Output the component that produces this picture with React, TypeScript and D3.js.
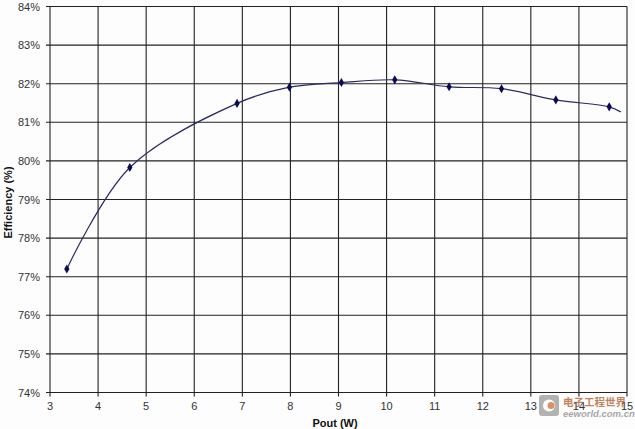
import React from "react";
import * as d3 from "d3";

const poutW = [3.35, 4.66, 6.89, 7.98, 9.06, 10.17, 11.3, 12.39, 13.52, 14.63];
const efficiencyPct = [77.2, 79.83, 81.49, 81.91, 82.03, 82.1, 81.92, 81.87, 81.58, 81.4];
const tailX = [14.87];
const tailY = [81.27];
const xTicks = [3, 4, 5, 6, 7, 8, 9, 10, 11, 12, 13, 14, 15];
const yTicks = [74, 75, 76, 77, 78, 79, 80, 81, 82, 83, 84];

const W = 635;
const H = 429;
const left = 50;
const right = 627;
const top = 6.5;
const bottom = 392.5;

export default function App() {
  const x = d3.scaleLinear().domain([3, 15]).range([left, right]);
  const y = d3.scaleLinear().domain([74, 84]).range([bottom, top]);
  const pts: [number, number][] = poutW.map((v, i) => [v, efficiencyPct[i]]);
  const linePts = pts.concat(tailX.map((v, i) => [v, tailY[i]] as [number, number]));
  const line = d3
    .line<[number, number]>()
    .x((d) => x(d[0]))
    .y((d) => y(d[1]))
    .curve(d3.curveCatmullRom.alpha(0.5));
  const font = "'Liberation Sans', Arial, sans-serif";
  return (
    <svg width={W} height={H} style={{ position: "absolute", left: 0, top: 0, background: "#fff" }} fontFamily={font}>
      <rect x={0} y={0} width={W} height={H} fill="#fdfdfd" />
      {xTicks.map((t) => (
        <g key={"x" + t}>
          <line x1={x(t)} x2={x(t)} y1={top} y2={bottom + 4} stroke="#222" strokeWidth={1.1} />
          <text x={x(t)} y={410} textAnchor="middle" fontSize={11} fill="#333">
            {t}
          </text>
        </g>
      ))}
      {yTicks.map((t) => (
        <g key={"y" + t}>
          <line x1={left - 4} x2={right} y1={y(t)} y2={y(t)} stroke="#222" strokeWidth={1.1} />
          <text x={40} y={y(t) + 4} textAnchor="end" fontSize={11} fill="#333">
            {t}%
          </text>
        </g>
      ))}
      <path d={line(linePts) || ""} fill="none" stroke="#2a2a66" strokeWidth={1.2} />
      {pts.map((d, i) => (
        <path
          key={"m" + i}
          d={d3.symbol(d3.symbolDiamond, 24)() || ""}
          transform={`translate(${x(d[0])},${y(d[1])})`}
          fill="#0a0a55"
        />
      ))}
      <text x={335} y={427} textAnchor="middle" fontSize={11} fontWeight="bold" fill="#111">
        Pout (W)
      </text>
      <text
        transform={`translate(12,${(top + bottom) / 2 + 3}) rotate(-90)`}
        textAnchor="middle"
        fontSize={11}
        fontWeight="bold"
        fill="#111"
      >
        Efficiency (%)
      </text>
      <g opacity={0.75}>
        <rect x={539} y={395} width={20} height={21} rx={3} fill="#9a9a9a" />
        <circle cx={549} cy={405.5} r={6} fill="#fff" />
        <circle cx={551} cy={405.5} r={3.5} fill="#d07030" />
        <text x={563} y={406} fontSize={10.5} fill="#b05a2a" fontFamily="'Noto Sans CJK SC', sans-serif" fontWeight="bold">
          电子工程世界
        </text>
        <text x={563} y={417} fontSize={9.5} fill="#8a8a8a" fontStyle="italic" fontWeight="bold">
          eeworld.com.cn
        </text>
      </g>
    </svg>
  );
}
